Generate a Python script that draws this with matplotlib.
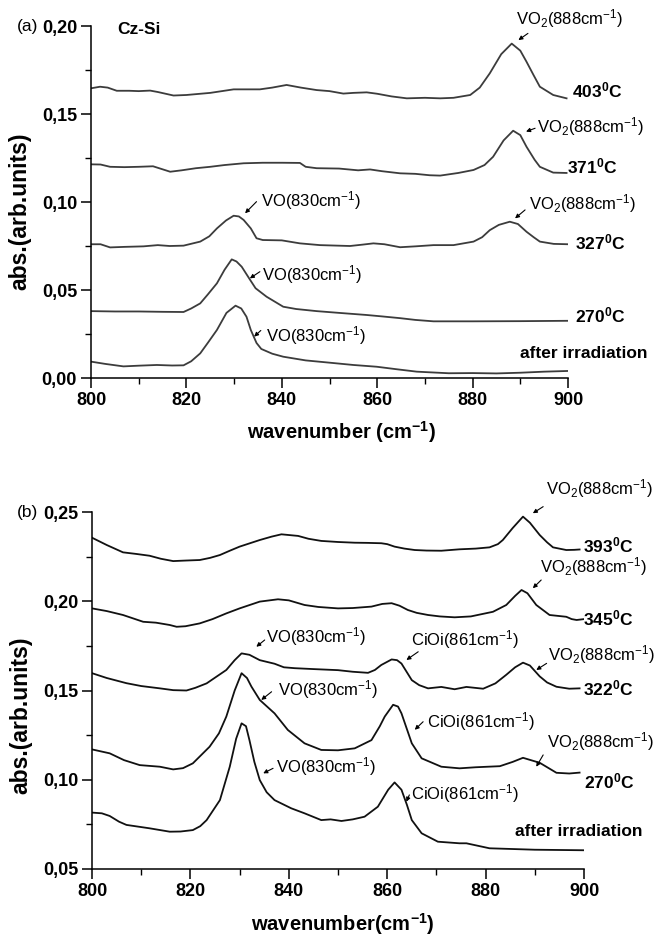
import matplotlib
matplotlib.use("Agg")
import matplotlib.pyplot as plt
from matplotlib import font_manager
from matplotlib.ticker import MultipleLocator, FuncFormatter

# ---------------- data: panel (a) Cz-Si ----------------
a_after_x = [800, 803, 806.8, 810, 813.8, 817, 819.4, 821, 822.9, 824.5, 826.4, 828.4, 830.3, 831.5, 832.6,
             833.5, 834.7, 835.7, 838, 840.3, 845, 850.8, 855, 859.9, 864, 868.3, 875, 880, 885, 890, 895, 900]
a_after_y = [0.0093, 0.0080, 0.0066, 0.0070, 0.0074, 0.0071, 0.0072, 0.0095, 0.0140, 0.0200, 0.0273, 0.0370,
             0.0411, 0.0395, 0.0348, 0.0273, 0.0199, 0.0165, 0.0138, 0.0121, 0.0100, 0.0085, 0.0074, 0.0064,
             0.0050, 0.0036, 0.0027, 0.0028, 0.0026, 0.0030, 0.0036, 0.0040]

a_270_x = [800, 805, 810, 815, 819.4, 821, 822.9, 824.5, 826.4, 828, 829.5, 830.5, 831.6, 833.3, 834.5, 836.8,
           840.3, 843, 847.3, 852, 857.8, 861, 864.8, 868, 871.8, 880, 890, 900]
a_270_y = [0.0380, 0.0378, 0.0378, 0.0376, 0.0375, 0.0395, 0.0424, 0.0475, 0.0538, 0.0615, 0.0674, 0.0662,
           0.0632, 0.0560, 0.0510, 0.0462, 0.0405, 0.0392, 0.0380, 0.0370, 0.0358, 0.0350, 0.0340, 0.0330,
           0.0322, 0.0322, 0.0323, 0.0325]

a_327_x = [800, 802, 804, 807, 811, 814, 816.5, 819.4, 822.9, 824.8, 826.4, 828.3, 829.9, 831, 832, 833.5, 834.7,
           836, 840, 843.8, 848, 854.3, 857, 859.2, 861.5, 864.8, 868, 871.8, 876, 880.2, 882, 883.6, 885.5,
           887.8, 889.5, 891.3, 892.8, 894.1, 897, 900]
a_327_y = [0.0760, 0.0760, 0.0742, 0.0745, 0.0748, 0.0755, 0.0750, 0.0752, 0.0775, 0.0805, 0.0850, 0.0895,
           0.0922, 0.0918, 0.0898, 0.0850, 0.0794, 0.0784, 0.0782, 0.0765, 0.0755, 0.0750, 0.0758, 0.0765,
           0.0760, 0.0743, 0.0748, 0.0755, 0.0755, 0.0775, 0.0800, 0.0840, 0.0870, 0.0888, 0.0875, 0.0831,
           0.0800, 0.0775, 0.0762, 0.0760]

a_371_x = [800, 802, 804, 807, 810, 813, 816.6, 819, 822, 825, 828, 832, 836, 840, 843.8, 845, 847.3, 852, 856,
           858.5, 861, 864.8, 868, 871, 873.2, 877, 880.2, 882.5, 884.3, 886.5, 888.5, 890, 891.3, 893, 894.1,
           896.9, 899.7]
a_371_y = [0.1214, 0.1213, 0.1200, 0.1198, 0.1200, 0.1203, 0.1172, 0.1180, 0.1192, 0.1200, 0.1210, 0.1220,
           0.1223, 0.1223, 0.1222, 0.1200, 0.1192, 0.1190, 0.1180, 0.1185, 0.1175, 0.1163, 0.1160, 0.1152,
           0.1150, 0.1165, 0.1182, 0.1210, 0.1257, 0.1350, 0.1405, 0.1380, 0.1314, 0.1240, 0.1200, 0.1167,
           0.1165]

a_403_x = [800, 801.9, 803.5, 805.4, 808, 810, 812.4, 814, 817.3, 820, 825, 829.9, 835.4, 838, 841, 844, 847.3,
           850, 852.9, 855, 857.8, 860, 863, 866.2, 870, 873.2, 876, 879.5, 881.5, 883.6, 886, 888.2, 890, 891.3,
           892.8, 894.1, 896.9, 899.7]
a_403_y = [0.1646, 0.1655, 0.1650, 0.1632, 0.1632, 0.1630, 0.1633, 0.1625, 0.1605, 0.1608, 0.1620, 0.1640,
           0.1640, 0.1650, 0.1665, 0.1650, 0.1636, 0.1630, 0.1616, 0.1620, 0.1623, 0.1615, 0.1600, 0.1589,
           0.1592, 0.1589, 0.1592, 0.1608, 0.1650, 0.1731, 0.1840, 0.1900, 0.1860, 0.1797, 0.1720, 0.1655,
           0.1608, 0.1589]

# ---------------- data: panel (b) ----------------
b_after_x = [800, 802, 803.6, 805.5, 807, 811.7, 815.8, 818, 820.5, 822, 823.3, 826, 828, 829.3, 830.4, 831.3,
             832, 833, 834.1, 835.5, 837.1, 840.5, 843.2, 846.6, 848.5, 850.7, 853, 855.4, 858.1, 860.2, 861.5,
             862.9, 864, 865, 867, 870.3, 874.7, 876.1, 880.8, 890, 900]
b_after_y = [0.0816, 0.0812, 0.0797, 0.0765, 0.0747, 0.0728, 0.0709, 0.0710, 0.0718, 0.0740, 0.0774, 0.0886,
             0.1073, 0.1230, 0.1316, 0.1300, 0.1222, 0.1100, 0.0998, 0.0930, 0.0886, 0.0840, 0.0812, 0.0774,
             0.0778, 0.0769, 0.0778, 0.0793, 0.0849, 0.0944, 0.0985, 0.0944, 0.0860, 0.0774, 0.0700, 0.0653,
             0.0644, 0.0644, 0.0616, 0.0608, 0.0605]

b_270_x = [800, 803.6, 806.5, 809.7, 813.8, 816.5, 818.5, 820.5, 823.9, 825.8, 827.3, 829, 830.4, 831.5, 832.4,
           834.1, 837.1, 839.8, 843.2, 846.6, 850, 853.4, 856.8, 858.5, 859.5, 861.2, 862.2, 862.9, 865, 867, 871,
           874.7, 878, 882.9, 885.5, 887.6, 891, 894.4, 897, 899.1]
b_270_y = [0.1170, 0.1148, 0.1110, 0.1082, 0.1073, 0.1058, 0.1065, 0.1092, 0.1185, 0.1260, 0.1354, 0.1500,
           0.1597, 0.1570, 0.1522, 0.1447, 0.1372, 0.1279, 0.1204, 0.1167, 0.1165, 0.1176, 0.1222, 0.1300,
           0.1354, 0.1420, 0.1410, 0.1372, 0.1204, 0.1120, 0.1073, 0.1064, 0.1070, 0.1076, 0.1100, 0.1123,
           0.1095, 0.1039, 0.1035, 0.1040]

b_322_x = [800, 803, 807, 810, 813.8, 816.5, 819.2, 821, 823.3, 827.3, 829, 830.4, 832, 834.1, 837.1, 839, 841.2,
           845, 850, 853, 856.1, 857.5, 858.8, 860.9, 862, 862.9, 865, 866.5, 868.3, 871, 873.7, 876.1, 879.5, 882,
           884.2, 886, 887.6, 889, 891, 892.5, 894.4, 897, 899.1]
b_322_y = [0.1597, 0.1570, 0.1541, 0.1525, 0.1512, 0.1502, 0.1500, 0.1515, 0.1540, 0.1615, 0.1670, 0.1708,
           0.1700, 0.1670, 0.1650, 0.1630, 0.1625, 0.1620, 0.1614, 0.1605, 0.1599, 0.1615, 0.1643, 0.1674,
           0.1670, 0.1651, 0.1558, 0.1530, 0.1512, 0.1520, 0.1507, 0.1520, 0.1510, 0.1540, 0.1588, 0.1630,
           0.1656, 0.1640, 0.1579, 0.1545, 0.1521, 0.1510, 0.1512]

b_345_x = [800, 803, 806.3, 810.4, 813, 815.8, 817.2, 819, 821.9, 824.5, 827.3, 830, 834.1, 837.8, 840, 843.2,
           846, 850, 853, 856.8, 859, 860.9, 862.5, 864.2, 866, 868.3, 870.7, 873.7, 877, 881.5, 884.2, 886,
           887.3, 888.5, 890.3, 893, 896.4, 897.5, 898.5, 900]
b_345_y = [0.1960, 0.1945, 0.1923, 0.1885, 0.1880, 0.1867, 0.1857, 0.1860, 0.1876, 0.1900, 0.1932, 0.1960,
           0.1998, 0.2011, 0.2005, 0.1979, 0.1968, 0.1960, 0.1962, 0.1970, 0.1985, 0.1989, 0.1975, 0.1951,
           0.1935, 0.1923, 0.1915, 0.1910, 0.1915, 0.1941, 0.1979, 0.2030, 0.2063, 0.2045, 0.1979, 0.1923,
           0.1913, 0.1900, 0.1895, 0.1900]

b_393_x = [800, 803, 806.3, 809, 811.7, 814, 816.5, 819, 821.9, 824, 826, 828, 830, 834.1, 836.5, 838.5, 841.9,
           844, 846.6, 850, 853.4, 856, 858.8, 860, 861.5, 863.5, 865.6, 868, 871, 874.7, 878, 880.8, 882.5,
           883.5, 885.5, 887.6, 889, 891, 892.5, 893.7, 896.4, 898, 899.1]
b_393_y = [0.2356, 0.2315, 0.2274, 0.2265, 0.2255, 0.2238, 0.2225, 0.2228, 0.2231, 0.2243, 0.2259, 0.2283,
           0.2306, 0.2343, 0.2362, 0.2375, 0.2366, 0.2350, 0.2338, 0.2332, 0.2328, 0.2327, 0.2325, 0.2320,
           0.2306, 0.2295, 0.2287, 0.2284, 0.2283, 0.2291, 0.2295, 0.2302, 0.2320, 0.2343, 0.2410, 0.2474,
           0.2440, 0.2371, 0.2330, 0.2302, 0.2287, 0.2288, 0.2290]

# ---------------- fonts ----------------
names = {f.name for f in font_manager.fontManager.ttflist}
FAM = "Liberation Sans Narrow" if "Liberation Sans Narrow" in names else "Liberation Sans"
plt.rcParams["font.family"] = [FAM, "DejaVu Sans"]
plt.rcParams["mathtext.fontset"] = "custom"
plt.rcParams["mathtext.rm"] = FAM
plt.rcParams["mathtext.it"] = FAM
plt.rcParams["mathtext.bf"] = FAM + ":bold"

TICK_FS = 13
XLAB_FS = 14.5
YLAB_FS = 16.5
ANN_FS = 12
TEMP_FS = 12.5

fig = plt.figure(figsize=(6.71, 9.39), dpi=100)
W, H = 671, 939
ax1 = fig.add_axes([91 / W, 1 - 378 / H, (568 - 91) / W, (378 - 26) / H])
ax2 = fig.add_axes([92 / W, 1 - 869 / H, (584 - 92) / W, (869 - 512) / H])

comma = FuncFormatter(lambda v, p: f"{v:.2f}".replace(".", ","))

for ax in (ax1, ax2):
    ax.spines["top"].set_visible(False)
    ax.spines["right"].set_visible(False)
    for s in ("left", "bottom"):
        ax.spines[s].set_linewidth(1.1)
    ax.set_xlim(800, 900)
    ax.xaxis.set_major_locator(MultipleLocator(20))
    ax.xaxis.set_minor_locator(MultipleLocator(10))
    ax.yaxis.set_major_locator(MultipleLocator(0.05))
    ax.yaxis.set_minor_locator(MultipleLocator(0.025))
    ax.yaxis.set_major_formatter(comma)
    ax.tick_params(which="major", direction="out", length=7, width=1.1, labelsize=TICK_FS, pad=3)
    ax.tick_params(which="minor", direction="out", length=4, width=1.0)

ax1.set_ylim(0, 0.20)
ax2.set_ylim(0.05, 0.25)

c1 = "#3c3c3c"
c2 = "#111111"
for xs, ys in [(a_after_x, a_after_y), (a_270_x, a_270_y), (a_327_x, a_327_y),
               (a_371_x, a_371_y), (a_403_x, a_403_y)]:
    ax1.plot(xs, ys, color=c1, lw=1.3)
for xs, ys in [(b_after_x, b_after_y), (b_270_x, b_270_y), (b_322_x, b_322_y),
               (b_345_x, b_345_y), (b_393_x, b_393_y)]:
    ax2.plot(xs, ys, color=c2, lw=1.3)

for ax in (ax1, ax2):
    for lab in ax.get_xticklabels() + ax.get_yticklabels():
        lab.set_fontweight("bold")

ax1.set_xlabel(r"wavenumber (cm$^{\mathbf{-1}}$)", fontsize=XLAB_FS, fontweight="bold")
ax2.set_xlabel(r"wavenumber(cm$^{\mathbf{-1}}$)", fontsize=XLAB_FS, fontweight="bold")
ax1.xaxis.set_label_coords(0.525, -0.118)
ax2.xaxis.set_label_coords(0.51, -0.118)
ax1.set_ylabel("abs.(arb.units)", fontsize=YLAB_FS, fontweight="bold")
ax2.set_ylabel("abs.(arb.units)", fontsize=YLAB_FS, fontweight="bold")
ax1.yaxis.set_label_coords(-0.124, 0.474)
ax2.yaxis.set_label_coords(-0.122, 0.43)

VO = r"VO(830cm$^{-1}$)"
VO2 = r"VO$_2$(888cm$^{-1}$)"
CI = r"CiOi(861cm$^{-1}$)"
arrow = dict(arrowstyle="-|>", lw=0.8, color="k", mutation_scale=6, shrinkA=0, shrinkB=0)


def note(ax, text, pos, ha="left"):
    ax.text(pos[0], pos[1], text, ha=ha, va="center", fontsize=ANN_FS, clip_on=False)


def arr(ax, start, end):
    ax.annotate("", xy=end, xytext=start, arrowprops=arrow, annotation_clip=False)


# panel (a) annotations
note(ax1, VO2, (900.4, 0.2044), ha="center")
arr(ax1, (891.6, 0.1958), (889.6, 0.1920))
note(ax1, VO2, (893.6, 0.1428))
arr(ax1, (893.1, 0.1419), (891.2, 0.1400))
note(ax1, VO2, (891.8, 0.0993))
arr(ax1, (891.0, 0.0955), (888.9, 0.0907))
note(ax1, VO, (835.6, 0.1011))
arr(ax1, (834.7, 0.1002), (832.3, 0.0936))
note(ax1, VO, (835.9, 0.0585))
arr(ax1, (835.4, 0.0604), (833.3, 0.0566))
note(ax1, VO, (836.6, 0.0244))
arr(ax1, (835.6, 0.0270), (834.2, 0.0235))

temps_a = [(r"403$^{\mathbf{0}}$C", 900.8, 0.1632), (r"371$^{\mathbf{0}}$C", 899.7, 0.1200),
           (r"327$^{\mathbf{0}}$C", 901.5, 0.0773), (r"270$^{\mathbf{0}}$C", 901.5, 0.0358),
           ("after irradiation", 889.9, 0.0140)]
for t, x, y in temps_a:
    ax1.text(x, y, t, fontsize=TEMP_FS, fontweight="bold", ha="left", va="center", clip_on=False)
ax1.text(805.4, 0.198, "Cz-Si", fontsize=TEMP_FS, fontweight="bold", ha="left", va="center")

# panel (b) annotations
note(ax2, VO2, (903.2, 0.2633), ha="center")
arr(ax2, (891.7, 0.2530), (889.6, 0.2493))
note(ax2, VO2, (891.0, 0.2194))
arr(ax2, (891.3, 0.2119), (889.6, 0.2073))
note(ax2, VO2, (892.7, 0.1699))
arr(ax2, (892.4, 0.1652), (890.3, 0.1615))
note(ax2, VO2, (892.4, 0.1213))
arr(ax2, (891.7, 0.1139), (890.3, 0.1073))
note(ax2, VO, (835.4, 0.1801))
arr(ax2, (835.1, 0.1783), (833.4, 0.1745))
note(ax2, CI, (864.9, 0.1783))
arr(ax2, (866.3, 0.1717), (863.9, 0.1671))
note(ax2, VO, (837.8, 0.1503))
arr(ax2, (836.5, 0.1493), (834.4, 0.1447))
note(ax2, CI, (868.0, 0.1325))
arr(ax2, (867.3, 0.1325), (865.6, 0.1280))
note(ax2, VO, (837.5, 0.1073))
arr(ax2, (836.8, 0.1064), (834.8, 0.1036))
note(ax2, CI, (864.9, 0.0924))
arr(ax2, (864.5, 0.0915), (863.9, 0.0877))

temps_b = [(r"393$^{\mathbf{0}}$C", 899.8, 0.2310), (r"345$^{\mathbf{0}}$C", 899.7, 0.1904),
           (r"322$^{\mathbf{0}}$C", 899.7, 0.1512), (r"270$^{\mathbf{0}}$C", 900.1, 0.0989),
           ("after irradiation", 885.9, 0.0709)]
for t, x, y in temps_b:
    ax2.text(x, y, t, fontsize=TEMP_FS, fontweight="bold", ha="left", va="center", clip_on=False)

fig.text(17 / W, 1 - 26.5 / H, "(a)", fontsize=TEMP_FS, ha="left", va="center")
fig.text(17 / W, 1 - 513 / H, "(b)", fontsize=TEMP_FS, ha="left", va="center")

fig.savefig("out.png", dpi=100)
